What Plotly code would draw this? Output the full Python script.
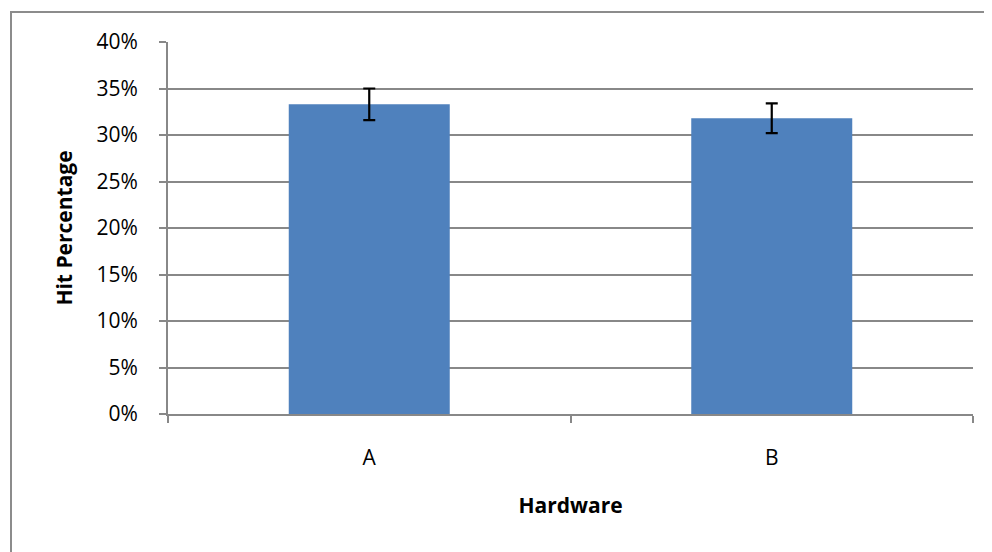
import plotly.graph_objects as go

categories = ["A", "B"]
hit_pct = [0.333, 0.318]
hit_err = [0.017, 0.016]

# page body has an 8px margin; compensate so the plot lands where the reference has it
OFF = 8
W, H = 992 - OFF, 552 - OFF
L, R, T, B = 168 - OFF, 19, 42 - OFF, 138
pw, ph = W - L - R, H - T - B

def px_x(p):
    return (p - OFF - L) / pw

def px_y(p):
    return (H - B - (p - OFF)) / ph

FONT = "Open Sans"
GRID = "#888888"
FRAME = "#8c8c8c"

fig = go.Figure(
    go.Bar(
        x=categories,
        y=hit_pct,
        width=0.4,
        marker=dict(color="#4F81BD", line=dict(width=0)),
        error_y=dict(type="data", array=hit_err, visible=True,
                     color="black", thickness=2.2, width=6),
    )
)

fig.update_layout(
    width=W, height=H,
    margin=dict(l=L, r=R, t=T, b=B),
    paper_bgcolor="white", plot_bgcolor="white",
    showlegend=False,
    font=dict(family=FONT, size=21, color="black"),
    xaxis=dict(
        range=[-0.5, 1.5],
        showgrid=False,
        showline=True, linecolor=GRID, linewidth=2,
        ticks="outside", ticklen=7, tickcolor=GRID, tickwidth=2,
        tickson="boundaries",
        ticklabelstandoff=24,
        title=dict(text="<b>Hardware</b>", standoff=28, font=dict(size=21)),
    ),
    yaxis=dict(
        range=[0, 0.4],
        dtick=0.05,
        tickformat=".0%",
        showgrid=True, gridcolor=GRID, gridwidth=1.5,
        showline=True, linecolor=GRID, linewidth=2,
        ticks="outside", ticklen=7, tickcolor=GRID, tickwidth=2,
        ticklabelstandoff=17,
        zeroline=False,
        title=dict(text="<b>Hit Percentage</b>", standoff=18, font=dict(size=21)),
    ),
    shapes=[
        dict(type="line", xref="paper", yref="paper",
             x0=px_x(11), x1=px_x(11), y0=px_y(11), y1=px_y(552),
             line=dict(color=FRAME, width=2), layer="below"),
        dict(type="line", xref="paper", yref="paper",
             x0=px_x(10), x1=px_x(992), y0=px_y(12), y1=px_y(12),
             line=dict(color=FRAME, width=2), layer="below"),
    ],
)

fig.write_html("out.html")
